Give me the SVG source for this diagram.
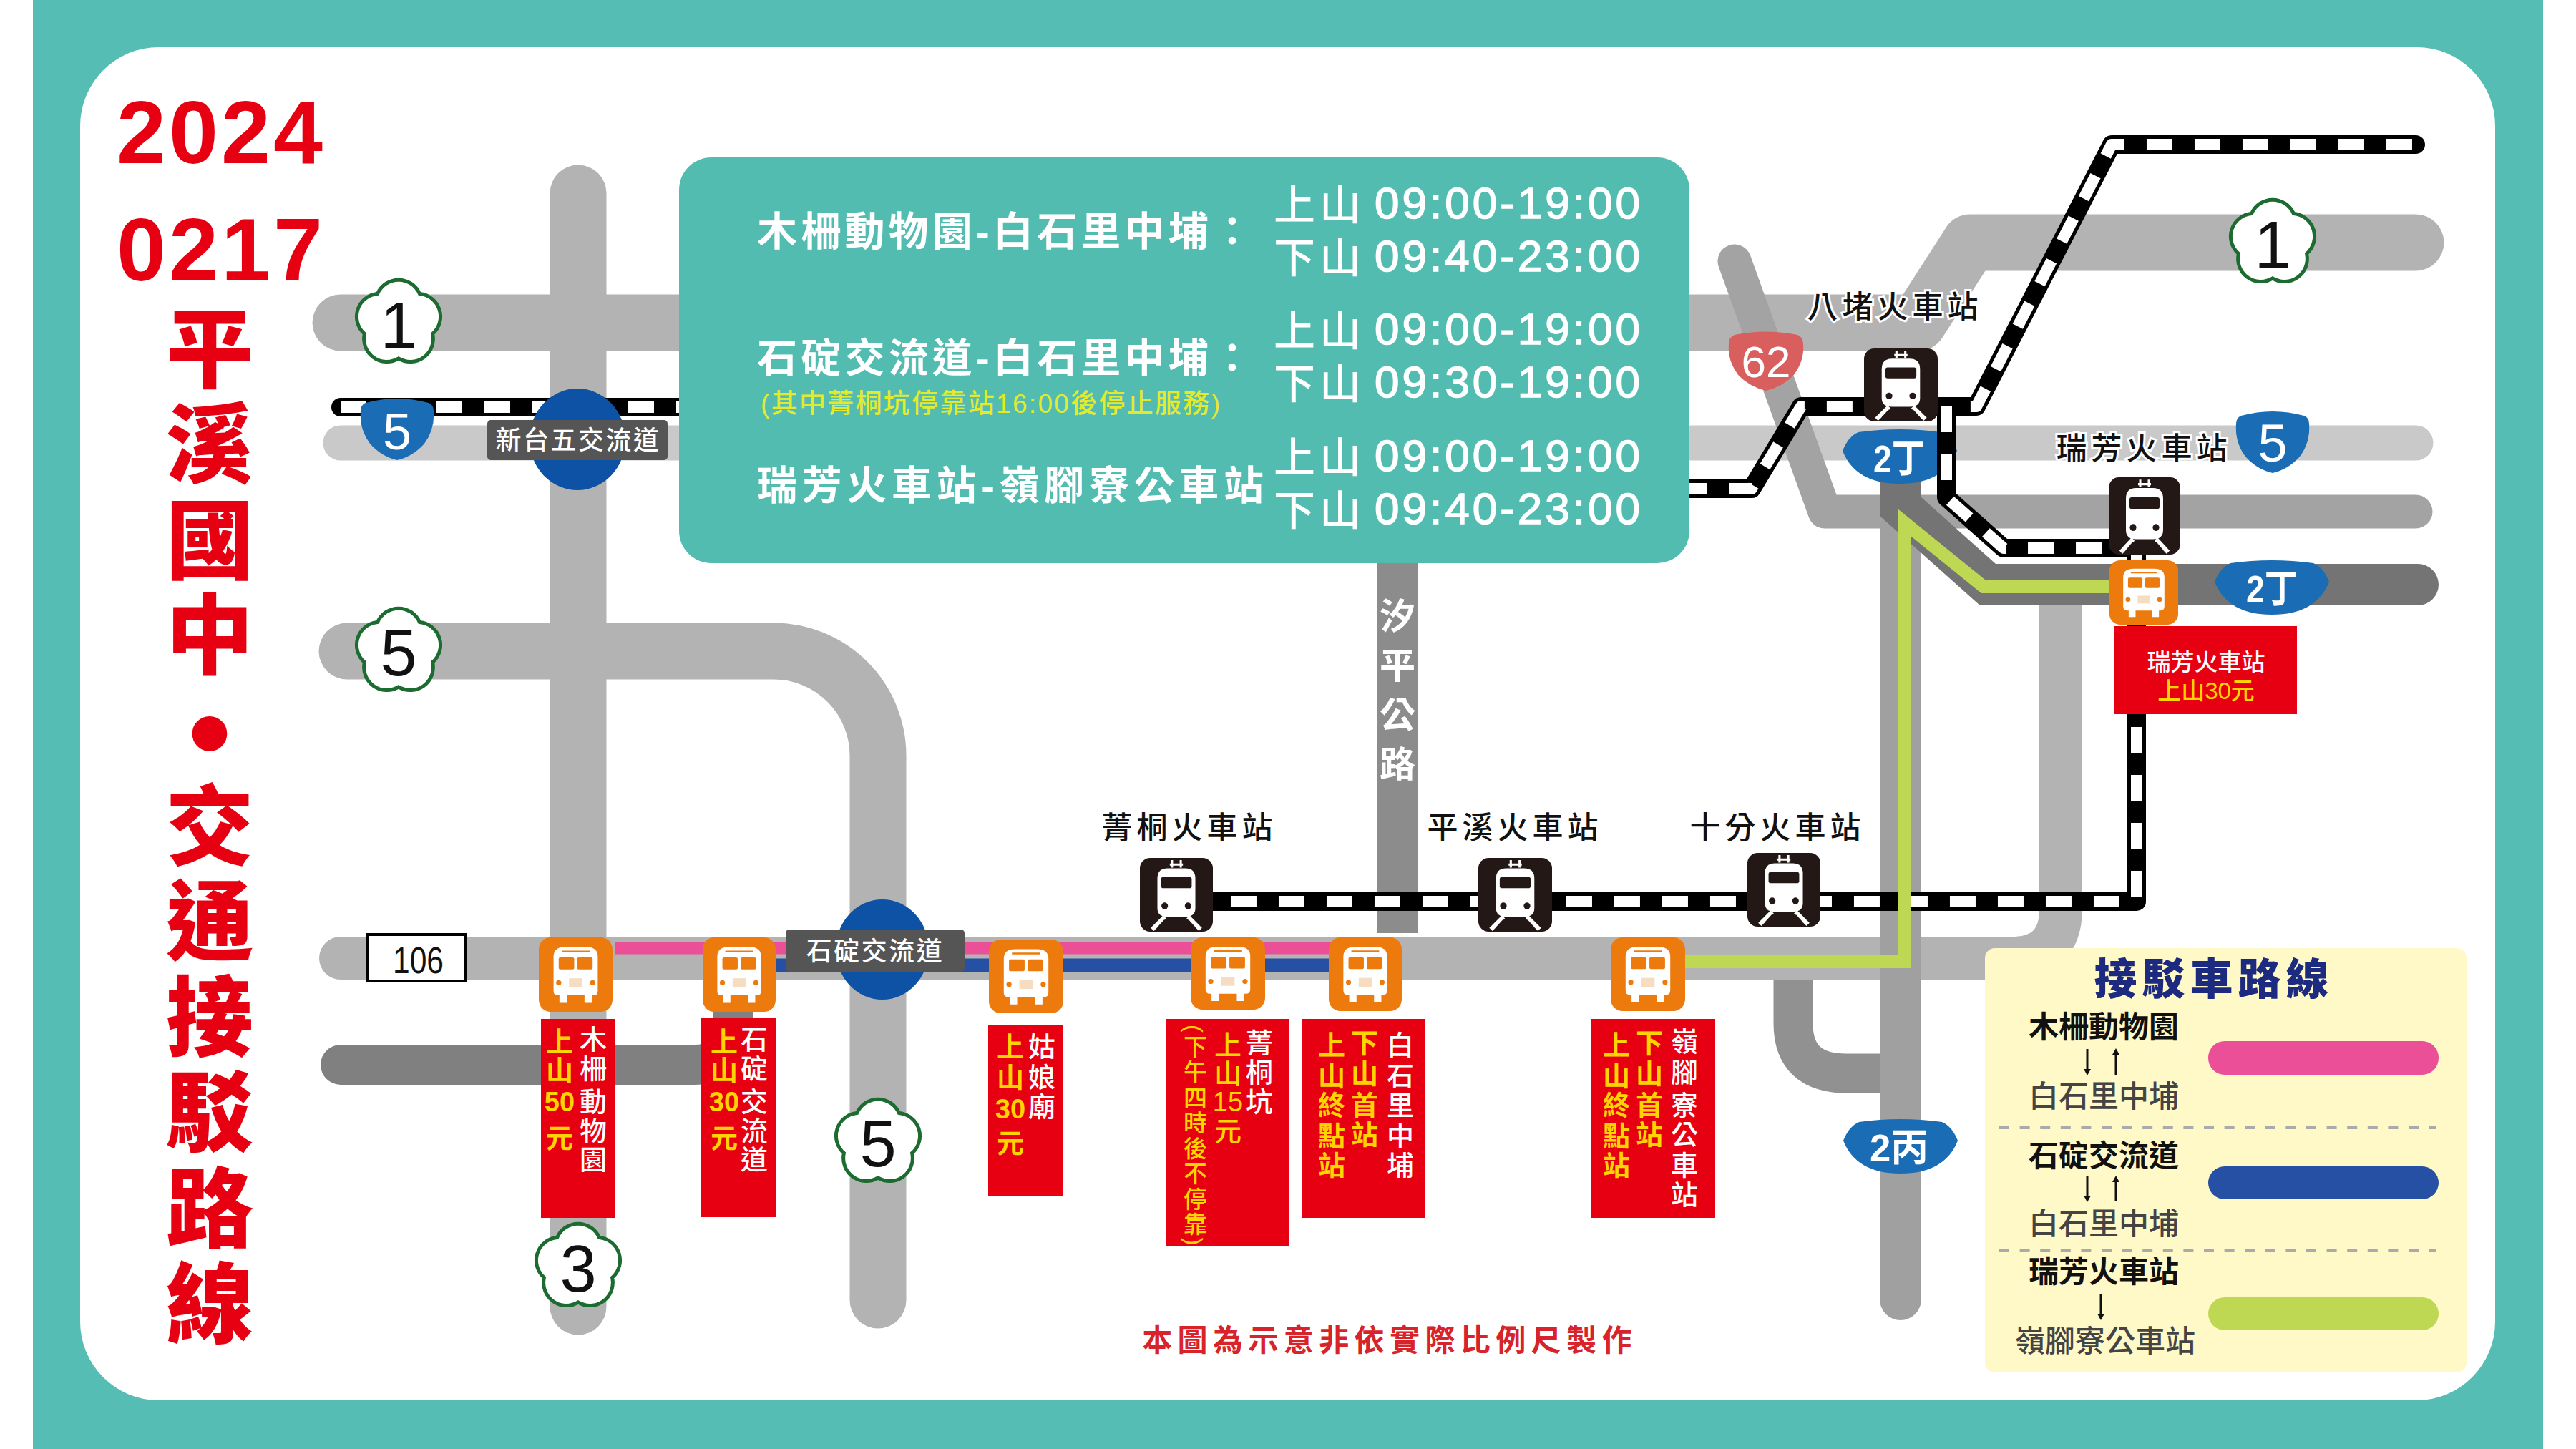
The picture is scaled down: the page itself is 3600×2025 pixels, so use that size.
<svg xmlns="http://www.w3.org/2000/svg" width="3600" height="2025" viewBox="0 0 3600 2025">
<style>
text{font-family:"Liberation Sans","Noto Sans CJK TC","Noto Sans CJK JP",sans-serif}
.m{text-anchor:middle}
.road{fill:none;stroke-linecap:round;stroke-linejoin:round}
.railo{fill:none;stroke:#000;stroke-width:26;stroke-linecap:round;stroke-linejoin:round}
.raili{fill:none;stroke:#fff;stroke-width:16;stroke-dasharray:36 31;stroke-linejoin:round}
.box{fill:#e60012}
.w{fill:#fff;font-size:38px;font-weight:500;text-anchor:middle}
.y{fill:#ffd400;font-size:38px;font-weight:700;text-anchor:middle}
.st{fill:#111;font-size:43px;font-weight:500;letter-spacing:6px;text-anchor:middle;stroke:#fff;stroke-width:6px;paint-order:stroke}
.pr{fill:#fff;font-size:56px;font-weight:700}
.tm{fill:#fff;font-size:62px;letter-spacing:4px;stroke:#fff;stroke-width:1.5px}
.tc{fill:#fff;font-size:58px;font-weight:500}
.fl{fill:#fff;stroke:#1c6b30;stroke-width:5}
.fn{fill:#111;font-size:92px;text-anchor:middle}
.sh{fill:#1a6db4}
.sn{fill:#fff;font-weight:700;font-size:54px}
.sd{fill:#fff;font-weight:400;text-anchor:middle}
.lg{font-size:42px;text-anchor:middle;font-weight:700;fill:#111}
.lg2{font-size:42px;text-anchor:middle;font-weight:500;fill:#444}
.ar{stroke:#111;stroke-width:3;marker-end:url(#ah)}
.dl{stroke:#aaa;stroke-width:4;stroke-dasharray:14 14.6}
.lab{fill:#555}
.labt{fill:#fff;font-size:36px;font-weight:500;letter-spacing:2.5px;text-anchor:middle}
</style>
<defs>
<marker id="ah" markerWidth="10" markerHeight="14" refX="4" refY="7" orient="auto" markerUnits="userSpaceOnUse"><path d="M0,2 L9,7 L0,12 Z" fill="#111"/></marker>
<path id="flower" d="M-29.4,-40.5 A32,32 0 0 1 29.4,-40.5 A32,32 0 0 1 47.6,15.5 A32,32 0 0 1 0,50 A32,32 0 0 1 -47.6,15.5 A32,32 0 0 1 -29.4,-40.5 Z"/>
<path id="fw" d="M-44,-37 Q0,-49 44,-37 Q51,-34 51,-26 Q53,0 38,20 Q22,38 0,43 Q-22,38 -38,20 Q-53,0 -51,-26 Q-51,-34 -44,-37 Z"/>
<path id="prov" d="M-58,-34 Q0,-42 58,-34 Q72,-28 80,-8 Q62,38 0,38 Q-62,38 -80,-8 Q-72,-28 -58,-34 Z"/>
<symbol id="train" viewBox="-50 -50 100 100" preserveAspectRatio="none">
<rect x="-50" y="-50" width="100" height="100" rx="14" fill="#231815"/>
<path d="M-6,-47 V-37 M6,-47 V-37 M-9,-41 H9" stroke="#fff" stroke-width="3" fill="none"/>
<path d="M-26,-22 Q-26,-36 -12,-36 H12 Q26,-36 26,-22 V18 Q26,30 12,30 H-12 Q-26,30 -26,18 Z" fill="#fff"/>
<rect x="-21" y="-24" width="42" height="15" rx="3" fill="#231815"/>
<circle cx="-16" cy="15" r="4.5" fill="#231815"/><circle cx="16" cy="15" r="4.5" fill="#231815"/>
<path d="M-16,30 L-33,47 M16,30 L33,47" stroke="#fff" stroke-width="6" fill="none"/>
<path d="M-17,34 H17 L26,44 H-26 Z" fill="#231815"/>
</symbol>
<symbol id="bus" viewBox="-50 -50 100 100" preserveAspectRatio="none">
<rect x="-50" y="-50" width="100" height="100" rx="16" fill="#ed7a0c"/>
<path d="M-30,-24 Q-30,-37 -15,-37 H15 Q30,-37 30,-24 V22 Q30,28 24,28 H22 V38 H12 V28 H-12 V38 H-22 V28 H-24 Q-30,28 -30,22 Z" fill="#fff"/>
<path d="M-19,-31 H19" stroke="#ed7a0c" stroke-width="2.5"/>
<rect x="-23" y="-23" width="21" height="16" rx="2" fill="#ed7a0c"/><rect x="2" y="-23" width="21" height="16" rx="2" fill="#ed7a0c"/>
<circle cx="-23" cy="11" r="3.5" fill="#ed7a0c"/><circle cx="23" cy="11" r="3.5" fill="#ed7a0c"/>
<rect x="-9" y="5" width="18" height="12" fill="#f6dcc0"/>
</symbol>
</defs>

<g id="frame">
<rect width="3600" height="2025" fill="#fff"/>
<rect x="46" width="3508" height="2025" fill="#55bdb3"/>
<rect x="112" y="66" width="3375" height="1891" rx="110" fill="#fff"/>
</g>

<g id="title" fill="#e60012">
<text x="163" y="228" font-size="124" font-weight="700" letter-spacing="4">2024</text>
<text x="163" y="392" font-size="124" font-weight="700" letter-spacing="4">0217</text>
<text class="m" font-size="122" font-weight="900"><tspan x="293 293 293 293" y="532 665 799 932">平溪國中</tspan><tspan x="293" y="1082" font-size="170">•</tspan><tspan x="293 293 293 293 293 293" y="1199 1332 1466 1599 1733 1866">交通接駁路線</tspan></text>
</g>

<g id="connectors">
<g id="roads" class="road">
<path d="M476,619 H3376" stroke="#c9c9c9" stroke-width="49"/>
<path d="M476,451 H2681 L2753,339 H3376" stroke="#b3b3b3" stroke-width="79"/>
<path d="M808,270 V1826" stroke="#b3b3b3" stroke-width="79"/>
<path d="M485,910 H1081 A146,146 0 0 1 1227,1056 V1817" stroke="#b3b3b3" stroke-width="79"/>
<path d="M2424,365 L2550,715 H3376" stroke="#a3a3a3" stroke-width="47"/>
<path d="M2506,1368 V1430 Q2506,1500 2580,1500 H2640" stroke="#919191" stroke-width="55" stroke-linecap="butt"/>
<path d="M476,1488 H970 Q1024,1488 1024,1430 V1370" stroke="#808080" stroke-width="56"/>
<path d="M2880,840 V1270 Q2880,1339 2810,1339 H2640" stroke="#b3b3b3" stroke-width="60" stroke-linecap="butt"/>
<path d="M476,1339 H2660" stroke="#b3b3b3" stroke-width="60"/>
<path d="M2656,740 V1816" stroke="#a0a0a0" stroke-width="58"/>
<path d="M2656,640 V708 L2778,817 H3379" stroke="#747474" stroke-width="58" stroke-linejoin="miter"/>
<path d="M1953,780 V1304" stroke="#8c8c8c" stroke-width="57" stroke-linecap="butt"/>
<path d="M860,1325 H1860" stroke="#ea4f97" stroke-width="17" stroke-linecap="butt"/>
<path d="M1040,1349 H1860" stroke="#2550a3" stroke-width="19" stroke-linecap="butt"/>
</g>
<g id="shield-2t-a"><use href="#prov" x="2655" y="638" class="sh"/><text class="sn" x="2618" y="660" textLength="72" lengthAdjust="spacingAndGlyphs">2丁</text></g>
<g id="rails">
<path class="railo" d="M476,569 H960"/><path class="raili" d="M476,569 H960"/>
<path class="railo" d="M2350,683 H2448 L2517,568 H2762 L2951,202 H3376"/><path class="raili" d="M2350,683 H2448 L2517,568 H2762 L2951,202 H3376"/>
<path class="railo" d="M2720,568 V695 L2800,766 H2986 V1260 H1644"/><path class="raili" d="M2720,568 V695 L2800,766 H2986 V1260 H1644"/>
</g>
<path id="route-green" d="M2955,820 H2772 L2661,730 V1344 H2340" fill="none" stroke="#bfd853" stroke-width="18" stroke-linejoin="miter"/>
</g>

<g id="sign-xintaiwu">
<ellipse cx="807" cy="614" rx="67" ry="71" fill="#0e52a5"/>
<rect class="lab" x="681" y="587" width="252" height="56" rx="5"/>
<text class="labt" x="808" y="628">新台五交流道</text>
</g>
<g id="sign-shiding">
<ellipse cx="1233" cy="1327" rx="65" ry="70" fill="#0e52a5"/>
<rect class="lab" x="1098" y="1299" width="250" height="59" rx="5"/>
<text class="labt" x="1223" y="1342">石碇交流道</text>
</g>

<g id="label-road-pingxi" fill="#fff" font-size="50" font-weight="700"><text class="m" x="1953 1953 1953 1953" y="879 948 1017 1086">汐平公路</text></g>

<g id="panel">
<rect x="949" y="220" width="1412" height="567" rx="45" fill="#52bcb1"/>
<text class="pr" x="1058" y="343" textLength="692">木柵動物園-白石里中埔：</text>
<text class="pr" x="1058" y="520" textLength="692">石碇交流道-白石里中埔：</text>
<text x="1063" y="577" font-size="37" font-weight="500" fill="#e3ea2e" textLength="642">(其中菁桐坑停靠站16:00後停止服務)</text>
<text class="pr" x="1058" y="698" textLength="708">瑞芳火車站-嶺腳寮公車站</text>
<text class="tc" x="1780" y="307" textLength="122">上山</text><text class="tm" x="1921" y="305">09:00-19:00</text>
<text class="tc" x="1780" y="381" textLength="122">下山</text><text class="tm" x="1921" y="379">09:40-23:00</text>
<text class="tc" x="1780" y="483" textLength="122">上山</text><text class="tm" x="1921" y="481">09:00-19:00</text>
<text class="tc" x="1780" y="557" textLength="122">下山</text><text class="tm" x="1921" y="555">09:30-19:00</text>
<text class="tc" x="1780" y="660" textLength="122">上山</text><text class="tm" x="1921" y="658">09:00-19:00</text>
<text class="tc" x="1780" y="734" textLength="122">下山</text><text class="tm" x="1921" y="732">09:40-23:00</text>
</g>

<g id="shields">
<g id="flower-1a"><use href="#flower" x="557" y="451" class="fl"/><text class="fn" x="557" y="487">1</text></g>
<g id="flower-5a"><use href="#flower" x="557" y="910" class="fl"/><text class="fn" x="557" y="944">5</text></g>
<g id="flower-1b"><use href="#flower" x="3176" y="339" class="fl"/><text class="fn" x="3176" y="374">1</text></g>
<g id="flower-5b"><use href="#flower" x="1227" y="1596" class="fl"/><text class="fn" x="1227" y="1630">5</text></g>
<g id="flower-3"><use href="#flower" x="808" y="1770" class="fl"/><text class="fn" x="808" y="1805">3</text></g>
<g id="fw-5a"><use href="#fw" x="555" y="600" class="sh"/><text class="sd" x="555" y="628" font-size="72">5</text></g>
<g id="fw-5b"><use href="#fw" x="3176" y="618" class="sh"/><text class="sd" x="3176" y="645" font-size="74">5</text></g>
<g id="shield-62"><path d="M-44,-37 Q0,-46 44,-37 Q52,-34 52,-24 Q54,0 38,20 Q22,36 0,41 Q-22,36 -38,20 Q-54,0 -52,-24 Q-52,-34 -44,-37 Z" transform="translate(2468,505)" fill="#d95f5f"/><text class="sd" x="2468" y="527" font-size="62">62</text></g>
<g id="shield-2t-b"><use href="#prov" x="3175" y="821" class="sh"/><text class="sn" x="3139" y="842" textLength="72" lengthAdjust="spacingAndGlyphs">2丁</text></g>
<g id="shield-2b"><use href="#prov" x="2656" y="1602" class="sh"/><text class="sn" x="2613" y="1623" textLength="82" lengthAdjust="spacingAndGlyphs">2丙</text></g>
<g id="shield-106"><rect x="514" y="1306" width="136" height="65" fill="#fff" stroke="#000" stroke-width="4"/><text x="549" y="1360" font-size="52" textLength="71" lengthAdjust="spacingAndGlyphs" fill="#111">106</text></g>
</g>

<g id="stn-badu"><use href="#train" x="2605" y="487" width="103" height="102"/><text class="st" x="2648" y="444">八堵火車站</text></g>
<g id="stn-ruifang"><use href="#train" x="2947" y="667" width="100" height="108"/><text class="st" x="2996" y="642">瑞芳火車站</text></g>
<g id="stn-jingtong"><use href="#train" x="1593" y="1199" width="102" height="103"/><text class="st" x="1662" y="1172">菁桐火車站</text></g>
<g id="stn-pingxi"><use href="#train" x="2066" y="1199" width="103" height="103"/><text class="st" x="2117" y="1172">平溪火車站</text></g>
<g id="stn-shifen"><use href="#train" x="2442" y="1192" width="102" height="103"/><text class="st" x="2484" y="1172">十分火車站</text></g>

<g id="stop-muzha">
<use href="#bus" x="753" y="1310" width="103" height="104"/>
<rect class="box" x="756" y="1424" width="104" height="278"/>
<text class="w" x="829 829 829 829 829" y="1466 1507 1553 1594 1634">木柵動物園</text>
<text class="y"><tspan x="782" y="1469">上</tspan><tspan x="782" y="1509">山</tspan><tspan x="782" y="1553">50</tspan><tspan x="782" y="1604">元</tspan></text>
</g>
<g id="stop-shiding">
<use href="#bus" x="982" y="1310" width="102" height="104"/>
<rect class="box" x="980" y="1422" width="105" height="279"/>
<text class="w" x="1054 1054 1054 1054 1054" y="1466 1507 1553 1594 1634">石碇交流道</text>
<text class="y"><tspan x="1012" y="1469">上</tspan><tspan x="1012" y="1509">山</tspan><tspan x="1012" y="1553">30</tspan><tspan x="1012" y="1604">元</tspan></text>
</g>
<g id="stop-guniang">
<use href="#bus" x="1382" y="1313" width="104" height="103"/>
<rect class="box" x="1381" y="1433" width="105" height="238"/>
<text class="w" x="1456 1456 1456" y="1476 1519 1560">姑娘廟</text>
<text class="y"><tspan x="1412" y="1476">上</tspan><tspan x="1412" y="1519">山</tspan><tspan x="1412" y="1563">30</tspan><tspan x="1412" y="1611">元</tspan></text>
</g>
<g id="stop-jingtongkeng">
<use href="#bus" x="1664" y="1310" width="104" height="101"/>
<rect class="box" x="1630" y="1424" width="171" height="318"/>
<text class="w" x="1760 1760 1760" y="1471 1512 1553">菁桐坑</text>
<text class="y" style="font-weight:500"><tspan x="1716" y="1474">上</tspan><tspan x="1716" y="1514">山</tspan><tspan x="1716" y="1553">15</tspan><tspan x="1716" y="1594">元</tspan></text>
<text x="1668" y="1432" fill="#ffd400" font-size="33" font-weight="500" style="writing-mode:vertical-rl;letter-spacing:2.5px">(下午四時後不停靠)</text>
</g>
<g id="stop-baishi">
<use href="#bus" x="1857" y="1310" width="102" height="103"/>
<rect class="box" x="1820" y="1424" width="172" height="278"/>
<text class="w" x="1957 1957 1957 1957 1957" y="1474 1517 1558 1601 1642">白石里中埔</text>
<text class="y" x="1907 1907 1907 1907" y="1471 1514 1558 1599">下山首站</text>
<text class="y" x="1861 1861 1861 1861 1861" y="1474 1517 1558 1601 1642">上山終點站</text>
</g>
<g id="stop-lingjiao">
<use href="#bus" x="2251" y="1310" width="104" height="103"/>
<rect class="box" x="2223" y="1424" width="174" height="278"/>
<text class="w" x="2354 2354 2354 2354 2354 2354" y="1469 1512 1558 1599 1642 1683">嶺腳寮公車站</text>
<text class="y" x="2305 2305 2305 2305" y="1471 1514 1558 1599">下山首站</text>
<text class="y" x="2259 2259 2259 2259 2259" y="1474 1517 1558 1601 1642">上山終點站</text>
</g>
<g id="stop-ruifang">
<use href="#bus" x="2948" y="783" width="96" height="90"/>
<rect class="box" x="2955" y="875" width="255" height="123"/>
<text class="w" x="3083" y="937" style="font-size:33px">瑞芳火車站</text>
<text class="y" x="3083" y="977" style="font-size:33px;font-weight:500">上山30元</text>
</g>

<text id="footnote" class="m" x="1942" y="1888" fill="#d8232a" font-size="42" font-weight="700" letter-spacing="7.4">本圖為示意非依實際比例尺製作</text>

<g id="legend">
<rect x="2774" y="1325" width="673" height="593" rx="14" fill="#fff9c8"/>
<text class="m" x="3094" y="1390" fill="#1c2a80" font-size="60" font-weight="900" letter-spacing="7">接駁車路線</text>
<text class="lg" x="2940" y="1450">木柵動物園</text>
<line class="ar" x1="2917" y1="1466" x2="2917" y2="1498"/><line class="ar" x1="2957" y1="1502" x2="2957" y2="1470"/>
<text class="lg2" x="2940" y="1547">白石里中埔</text>
<line class="dl" x1="2794" y1="1576" x2="3404" y2="1576"/>
<text class="lg" x="2940" y="1630">石碇交流道</text>
<line class="ar" x1="2917" y1="1644" x2="2917" y2="1675"/><line class="ar" x1="2957" y1="1679" x2="2957" y2="1648"/>
<text class="lg2" x="2940" y="1725">白石里中埔</text>
<line class="dl" x1="2794" y1="1747" x2="3404" y2="1747"/>
<text class="lg" x="2940" y="1792">瑞芳火車站</text>
<line class="ar" x1="2936" y1="1809" x2="2936" y2="1840"/>
<text class="lg2" x="2942" y="1889">嶺腳寮公車站</text>
<rect x="3086" y="1455" width="322" height="47" rx="23" fill="#ea4f97"/>
<rect x="3086" y="1630" width="322" height="46" rx="23" fill="#2550a3"/>
<rect x="3086" y="1813" width="322" height="46" rx="23" fill="#bfd853"/>
</g>
</svg>
